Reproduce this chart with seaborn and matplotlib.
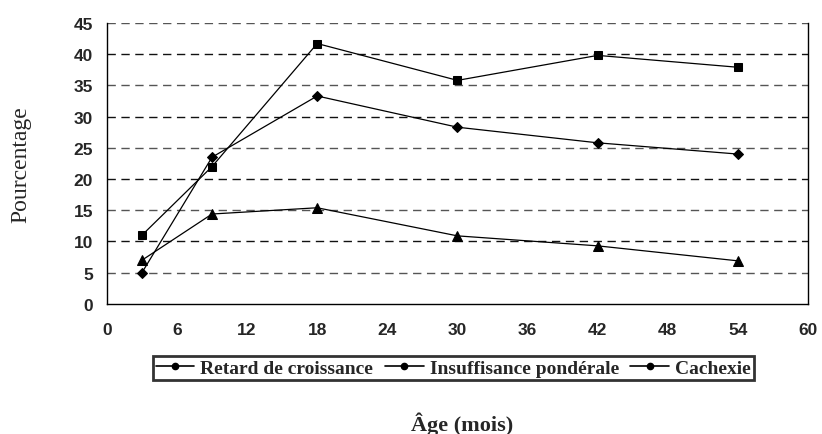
import matplotlib.pyplot as plt
import seaborn as sns
import pandas as pd
from matplotlib.lines import Line2D

# Données
age = [3, 9, 18, 30, 42, 54]
retard = [11.0, 22.0, 41.7, 35.8, 39.8, 37.9]
insuffisance = [5.0, 23.5, 33.3, 28.3, 25.8, 24.0]
cachexie = [7.0, 14.4, 15.4, 10.9, 9.3, 6.9]

labels = ["Retard de croissance", "Insuffisance pondérale", "Cachexie"]
x_ticks = list(range(0, 61, 6))
y_ticks = list(range(0, 46, 5))

df = pd.DataFrame({"age": age, labels[0]: retard, labels[1]: insuffisance, labels[2]: cachexie})

sns.set_style("white")
fig = plt.figure(figsize=(8.22, 4.35), dpi=100)
ax = fig.add_axes([0.130, 0.299, 0.853, 0.646])

markers = ["s", "D", "^"]
sizes = [5.5, 5, 6.5]
for lab, m, s in zip(labels, markers, sizes):
    sns.lineplot(data=df, x="age", y=lab, ax=ax, color="black", linewidth=0.9,
                 marker=m, markersize=s, markeredgecolor="black", label=lab)

ax.set_xlim(0, 60)
ax.set_ylim(0, 45)
ax.set_xticks(x_ticks)
ax.set_yticks(y_ticks)
# lignes de quadrillage pointillées
for i, yv in enumerate(y_ticks[1:]):
    ax.axhline(yv, color="#555555" if i % 2 == 0 else "#111111", linestyle=(0, (6, 4)),
               linewidth=1.0, zorder=0)

for sp in ["left", "bottom", "right"]:
    ax.spines[sp].set_visible(True)
    ax.spines[sp].set_color("black")
    ax.spines[sp].set_linewidth(1.0)
ax.spines["top"].set_visible(False)

ax.tick_params(axis="both", direction="out", length=5, width=1, color="black",
               labelsize=12.5, pad=5)
ax.tick_params(axis="x", pad=8)
for t in ax.get_xticklabels() + ax.get_yticklabels():
    t.set_fontfamily("Liberation Sans")
    t.set_fontweight("bold")

ax.set_xlabel("")
ax.set_ylabel("Pourcentage", fontfamily="Liberation Serif", fontsize=17, labelpad=30)
fig.text(0.562, 0.025, "Âge (mois)", ha="center", va="center",
         fontfamily="Liberation Serif", fontweight="bold", fontsize=16)

handles = [Line2D([0], [0], color="black", linewidth=1.2, marker="o", markersize=4.5)
           for _ in labels]
leg = ax.legend(handles, labels, loc="center", bbox_to_anchor=(0.494, -0.228), ncol=3,
                frameon=True, fancybox=False, edgecolor="black", handlelength=2.0,
                handletextpad=0.3, columnspacing=0.6, borderpad=0.15, borderaxespad=0,
                prop={"family": "Liberation Serif", "weight": "bold", "size": 14})
leg.get_frame().set_linewidth(2.0)

fig.savefig("out.png", dpi=100)
